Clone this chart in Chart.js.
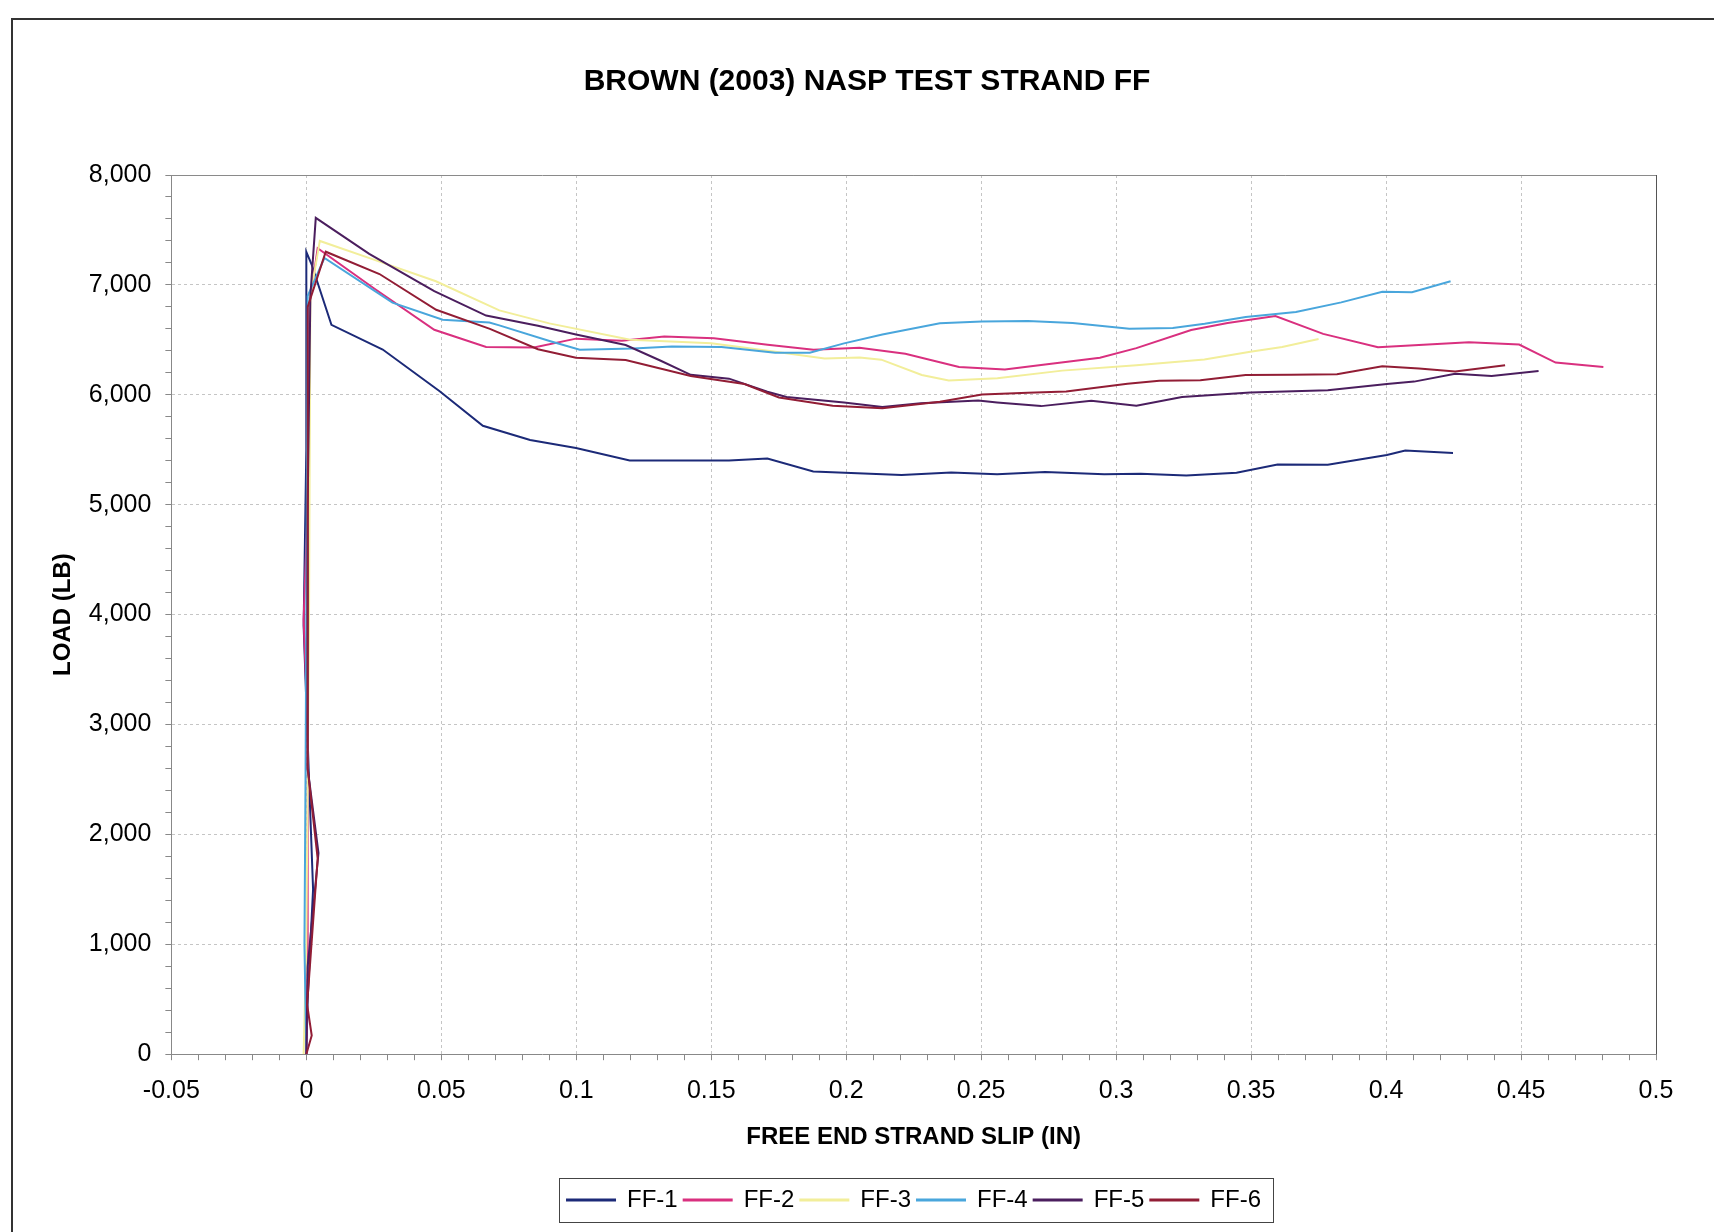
<!DOCTYPE html>
<html>
<head>
<meta charset="utf-8">
<script src="https://cdn.jsdelivr.net/npm/chart.js@4.4.1/dist/chart.umd.min.js"></script>
<style>
  html, body { margin: 0; padding: 0; background: #fff; }
  #wrap { position: relative; width: 1714px; height: 1232px; overflow: hidden; }
  #frame { position: absolute; left: 11px; top: 18px; width: 1800px; height: 1400px;
           border-left: 2px solid #333; border-top: 2px solid #333; pointer-events: none; }
  canvas { position: absolute; left: 0; top: 0; }
</style>
</head>
<body>
<div id="wrap">
  <canvas id="c" width="1714" height="1232"></canvas>
  <div id="frame"></div>
</div>
<script>
// ---------- data ----------
const SERIES_NAMES = ['FF-1', 'FF-2', 'FF-3', 'FF-4', 'FF-5', 'FF-6'];

const FF1_SLIP = [0, 0.0005, 0.0015, 0.0025, 0.001, -0.001, 0, 0, 0.0019, 0.0093, 0.0283, 0.0494, 0.0654, 0.0829, 0.0999, 0.1198, 0.1566, 0.1708, 0.1878, 0.2205, 0.2389, 0.2559, 0.2737, 0.2956, 0.3091, 0.326, 0.3446, 0.3598, 0.3784, 0.4003, 0.4071, 0.4248];
const FF1_LOAD = [0, 500, 1000, 1500, 2500, 3900, 5500, 7300, 7190, 6636, 6412, 6033, 5718, 5589, 5515, 5403, 5402, 5420, 5303, 5270, 5294, 5277, 5298, 5278, 5281, 5265, 5290, 5366, 5363, 5452, 5493, 5470];

const FF2_SLIP = [0, 0.0005, 0.0005, -0.001, 0.0005, 0.001, 0.0042, 0.025, 0.0474, 0.0666, 0.0843, 0.0999, 0.1169, 0.1326, 0.151, 0.1709, 0.1879, 0.2049, 0.2219, 0.2418, 0.2588, 0.2737, 0.294, 0.3075, 0.3278, 0.3413, 0.359, 0.3767, 0.397, 0.4088, 0.4307, 0.4493, 0.4628, 0.4805];
const FF2_LOAD = [0, 1000, 3000, 3950, 5000, 6800, 7333, 6970, 6592, 6436, 6430, 6511, 6492, 6531, 6515, 6455, 6410, 6427, 6374, 6253, 6231, 6276, 6337, 6425, 6590, 6654, 6716, 6554, 6432, 6448, 6478, 6457, 6293, 6253];

const FF3_SLIP = [-0.001, 0, 0.001, 0.0015, 0.005, 0.025, 0.048, 0.0715, 0.09, 0.12, 0.15, 0.171, 0.192, 0.205, 0.213, 0.228, 0.238, 0.256, 0.28, 0.3075, 0.3327, 0.3497, 0.3615, 0.375];
const FF3_LOAD = [0, 1000, 4000, 6900, 7400, 7230, 7033, 6768, 6650, 6500, 6470, 6400, 6330, 6340, 6320, 6180, 6130, 6150, 6220, 6268, 6321, 6392, 6435, 6508];

const FF4_SLIP = [0, -0.0007, -0.0003, 0, 0.0005, 0.0067, 0.0319, 0.0505, 0.0678, 0.0715, 0.0901, 0.1013, 0.1212, 0.1354, 0.1538, 0.1737, 0.1865, 0.1992, 0.2134, 0.2347, 0.2503, 0.2673, 0.2839, 0.3049, 0.321, 0.3328, 0.348, 0.3666, 0.3834, 0.3986, 0.4096, 0.4239];
const FF4_LOAD = [0, 1000, 2500, 4000, 6900, 7245, 6839, 6683, 6657, 6632, 6490, 6411, 6422, 6439, 6434, 6383, 6383, 6468, 6549, 6651, 6668, 6672, 6653, 6602, 6608, 6646, 6707, 6754, 6841, 6937, 6934, 7033];

const FF5_SLIP = [0, 0.0005, 0.0045, 0.0005, 0.0005, 0.0015, 0.0035, 0.0233, 0.0474, 0.0666, 0.0858, 0.0999, 0.1183, 0.1311, 0.1424, 0.1566, 0.1708, 0.1779, 0.1992, 0.2134, 0.2276, 0.2489, 0.2559, 0.2722, 0.2908, 0.3075, 0.3244, 0.3497, 0.3784, 0.4003, 0.4104, 0.4256, 0.4391, 0.4565];
const FF5_LOAD = [0, 800, 1830, 2600, 5000, 6900, 7610, 7283, 6943, 6721, 6628, 6548, 6453, 6312, 6182, 6147, 6028, 5981, 5930, 5890, 5922, 5947, 5931, 5897, 5945, 5901, 5980, 6021, 6041, 6099, 6120, 6191, 6171, 6216];

const FF6_SLIP = [0, 0.002, 0.0003, 0.0042, 0.0005, 0.0005, 0.0072, 0.0271, 0.0481, 0.068, 0.0858, 0.0999, 0.1183, 0.1424, 0.1623, 0.1751, 0.195, 0.2134, 0.2347, 0.2503, 0.2673, 0.2815, 0.3042, 0.316, 0.3312, 0.348, 0.3649, 0.3818, 0.3986, 0.4122, 0.4256, 0.4441];
const FF6_LOAD = [0, 170, 450, 1780, 2600, 6800, 7302, 7099, 6774, 6600, 6415, 6338, 6316, 6172, 6098, 5975, 5900, 5878, 5937, 6002, 6019, 6030, 6101, 6128, 6133, 6181, 6182, 6186, 6259, 6240, 6212, 6268];

const X_TICK_LABELS = ['-0.05', '0', '0.05', '0.1', '0.15', '0.2', '0.25', '0.3', '0.35', '0.4', '0.45', '0.5'];
const Y_TICK_LABELS = ['0', '1,000', '2,000', '3,000', '4,000', '5,000', '6,000', '7,000', '8,000'];

// ---------- styles ----------
const COLORS = ['#1c2a78', '#d9307f', '#f2ee9a', '#49a6dc', '#4b1e5e', '#921d35'];
const FONT = 'Liberation Sans, Arial, Helvetica, sans-serif';

const SLIPS = [FF1_SLIP, FF2_SLIP, FF3_SLIP, FF4_SLIP, FF5_SLIP, FF6_SLIP];
const LOADS = [FF1_LOAD, FF2_LOAD, FF3_LOAD, FF4_LOAD, FF5_LOAD, FF6_LOAD];

const datasets = SERIES_NAMES.map((name, i) => ({
  label: name,
  data: SLIPS[i].map((x, k) => ({ x: x, y: LOADS[i][k] })),
  showLine: true,
  borderColor: COLORS[i],
  backgroundColor: COLORS[i],
  borderWidth: 2,
  pointRadius: 0,
  pointHoverRadius: 0,
  tension: 0,
  order: SERIES_NAMES.length - i
}));

const plotBorder = {
  id: 'plotBorder',
  afterDatasetsDraw(chart) {
    const { ctx, chartArea: a } = chart;
    ctx.save();
    ctx.strokeStyle = '#8a8a8a';
    ctx.lineWidth = 1;
    ctx.beginPath();
    ctx.moveTo(a.left, a.top + 0.5);
    ctx.lineTo(a.right + 0.5, a.top + 0.5);
    ctx.stroke();
    ctx.strokeStyle = '#555';
    ctx.beginPath();
    ctx.moveTo(a.right + 0.5, a.top);
    ctx.lineTo(a.right + 0.5, a.bottom);
    ctx.stroke();
    ctx.restore();
  }
};

// horizontal placement of the title and the legend, as in the reference
const shiftBoxes = {
  id: 'shiftBoxes',
  afterLayout(chart) {
    const lg = chart.legend;
    if (lg) { lg.left += 86; lg.right += 86; }
    const tt = chart.titleBlock;
    if (tt) { tt.left += 39; tt.right += 39; }
  }
};

const legendBox = {
  id: 'legendBox',
  afterDraw(chart) {
    const hb = chart.legend && chart.legend.legendHitBoxes;
    if (!hb || !hb.length) return;
    let l = Infinity, r = -Infinity, t = Infinity, b = -Infinity;
    hb.forEach(h => {
      l = Math.min(l, h.left); r = Math.max(r, h.left + h.width);
      t = Math.min(t, h.top); b = Math.max(b, h.top + h.height);
    });
    const ctx = chart.ctx;
    ctx.save();
    ctx.strokeStyle = '#444';
    ctx.lineWidth = 1;
    ctx.strokeRect(Math.round(l - 8) + 0.5, Math.round(t - 10) + 0.5, Math.round(r - l + 20), Math.round(b - t + 20));
    ctx.restore();
  }
};

new Chart(document.getElementById('c'), {
  type: 'scatter',
  data: { datasets },
  plugins: [shiftBoxes, plotBorder, legendBox],
  options: {
    responsive: false,
    animation: false,
    events: [],
    layout: { padding: { left: 0, right: 58, top: 0, bottom: 10 } },
    plugins: {
      title: {
        display: true,
        text: 'BROWN (2003) NASP TEST STRAND FF',
        color: '#000',
        font: { family: FONT, size: 30, weight: 'bold' },
        padding: { top: 64, bottom: 75 }
      },
      legend: {
        position: 'bottom',
        labels: {
          color: '#000',
          font: { family: FONT, size: 24 },
          boxWidth: 48,
          boxHeight: 1,
          padding: 6,
          sort: (a, b) => a.datasetIndex - b.datasetIndex
        }
      },
      tooltip: { enabled: false }
    },
    scales: {
      x: {
        type: 'linear',
        min: -0.05,
        max: 0.5,
        border: { display: true, color: '#888', width: 1, dash: [3, 3] },
        grid: {
          color: (c) => {
            const v = Math.round(c.tick.value * 100);
            if (v === -5 || v === 50) return 'rgba(0,0,0,0)';
            return v % 5 === 0 ? 'rgba(150,150,150,0.55)' : 'rgba(0,0,0,0)';
          },
          lineWidth: 1,
          drawTicks: true,
          tickLength: 6,
          tickColor: '#888',
          tickBorderDash: []
        },
        ticks: {
          stepSize: 0.01,
          autoSkip: false,
          maxRotation: 0,
          color: '#000',
          padding: 16,
          font: { family: FONT, size: 25 },
          callback: (value) => {
            const v = Math.round(value * 100);
            if (v % 5 !== 0) return '';
            return X_TICK_LABELS[(v + 5) / 5];
          }
        },
        title: {
          display: true,
          text: 'FREE END STRAND SLIP (IN)',
          color: '#000',
          font: { family: FONT, size: 24, weight: 'bold' },
          padding: { top: 1, bottom: 30 }
        }
      },
      y: {
        type: 'linear',
        min: 0,
        max: 8000,
        border: { display: true, color: '#888', width: 1, dash: [3, 3] },
        grid: {
          color: (c) => {
            const v = Math.round(c.tick.value);
            if (v === 0 || v === 8000) return 'rgba(0,0,0,0)';
            return v % 1000 === 0 ? 'rgba(150,150,150,0.55)' : 'rgba(0,0,0,0)';
          },
          lineWidth: 1,
          drawTicks: true,
          tickLength: 6,
          tickColor: '#888',
          tickBorderDash: []
        },
        ticks: {
          stepSize: 200,
          autoSkip: false,
          color: '#000',
          padding: 14,
          font: { family: FONT, size: 25 },
          callback: (value) => {
            const v = Math.round(value);
            if (v % 1000 !== 0) return '';
            return Y_TICK_LABELS[v / 1000];
          }
        },
        title: {
          display: true,
          text: 'LOAD (LB)',
          color: '#000',
          font: { family: FONT, size: 24, weight: 'bold' },
          padding: { top: 49, bottom: -3 }
        }
      }
    }
  }
});
</script>
</body>
</html>
